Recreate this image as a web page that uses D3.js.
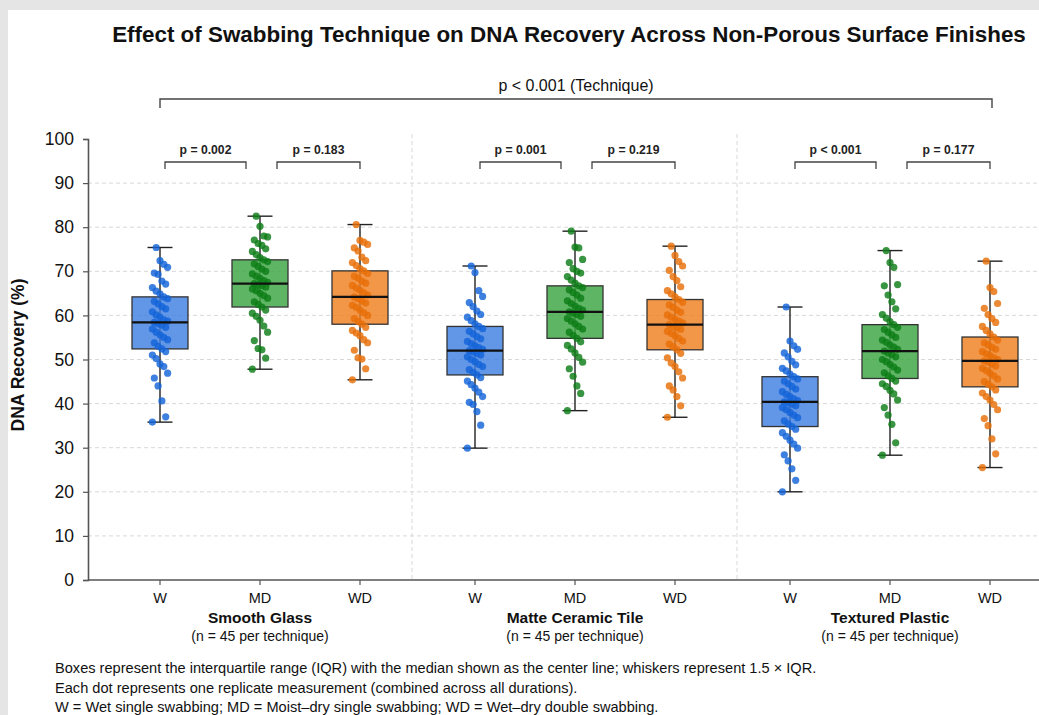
<!DOCTYPE html>
<html>
<head>
<meta charset="utf-8">
<script src="https://cdn.jsdelivr.net/npm/d3@7"></script>
<style>
  html, body { margin: 0; padding: 0; background: #e5e5e5; }
  svg { display: block; font-family: "Liberation Sans", Arial, Helvetica, sans-serif; }
</style>
</head>
<body>
<svg id="chart" width="1039" height="715"></svg>
<script>
// ---------------- DATA ----------------
const surfaces = ["Smooth Glass", "Matte Ceramic Tile", "Textured Plastic"];
const techniques = ["W", "MD", "WD"];
const sampleNote = "(n = 45 per technique)";

// box statistics [surface][technique]
const q1Values      = [[52.4, 61.9, 58.0], [46.5, 54.8, 52.2], [34.8, 45.7, 43.8]];
const medianValues  = [[58.4, 67.2, 64.2], [52.0, 60.8, 57.9], [40.4, 51.9, 49.7]];
const q3Values      = [[64.2, 72.6, 70.1], [57.5, 66.7, 63.6], [46.1, 57.9, 55.1]];
const whiskerLow    = [[35.8, 47.8, 45.4], [29.9, 38.4, 36.9], [20.0, 28.3, 25.5]];
const whiskerHigh   = [[75.4, 82.5, 80.6], [71.2, 79.1, 75.7], [61.9, 74.7, 72.3]];

// pairwise p-values: [W vs MD, MD vs WD]
const pairLabels = [["p = 0.002", "p = 0.183"], ["p = 0.001", "p = 0.219"], ["p < 0.001", "p = 0.177"]];
const overallLabel = "p < 0.001 (Technique)";

// replicate measurements (45 per technique)
const glassW  = [35.8,37.0,40.6,44.0,45.8,46.9,48.4,49.0,50.2,51.0,51.8,52.4,53.0,53.8,54.5,55.0,55.6,56.2,56.9,57.3,57.8,58.1,58.4,58.7,59.0,59.6,60.1,60.8,61.5,62.0,62.6,63.2,63.8,64.2,64.9,65.5,66.3,67.1,67.8,69.3,69.6,70.9,71.6,72.4,75.4];
const glassMD = [47.8,50.3,52.2,52.5,54.3,56.2,57.6,58.9,59.8,60.5,61.2,61.9,62.5,63.1,63.9,64.5,65.0,65.6,66.0,66.4,66.8,67.0,67.2,67.5,67.9,68.4,68.9,69.4,70.0,70.5,71.1,71.7,72.2,72.6,73.1,73.8,74.5,75.1,75.9,76.3,77.1,77.8,78.0,80.2,82.5];
const glassWD = [45.4,47.9,50.1,50.4,52.1,53.8,54.5,55.4,56.0,56.6,57.3,58.0,58.6,59.3,60.0,60.6,61.2,61.8,62.3,62.8,63.3,63.8,64.2,64.6,65.1,65.7,66.2,66.8,67.3,67.8,68.4,68.9,69.5,70.1,70.6,71.3,72.0,72.4,73.2,74.6,75.3,76.1,76.6,77.0,80.6];
const tileW   = [29.9,35.1,38.2,39.8,40.3,41.6,42.6,43.5,44.3,45.1,45.9,46.5,47.1,47.7,48.4,48.9,49.5,50.0,50.6,51.0,51.4,51.7,52.0,52.3,52.7,53.1,53.6,54.1,54.7,55.2,55.8,56.4,57.0,57.5,58.1,58.8,59.6,60.2,61.0,62.0,62.9,64.3,65.6,69.7,71.2];
const tileMD  = [38.4,42.3,44.0,46.2,47.9,49.4,50.5,51.5,52.4,53.2,54.0,54.8,55.5,56.2,56.9,57.5,58.1,58.7,59.3,59.8,60.2,60.5,60.8,61.2,61.6,62.1,62.7,63.3,63.9,64.6,65.2,65.8,66.3,66.7,67.3,68.0,68.8,69.6,70.0,70.6,72.0,72.7,75.3,75.5,79.1];
const tileWD  = [36.9,39.5,41.6,43.1,44.0,45.8,47.2,48.4,49.2,50.4,51.4,52.2,52.9,53.5,54.2,54.8,55.4,55.9,56.4,56.8,57.2,57.5,57.9,58.3,58.7,59.1,59.6,60.1,60.7,61.2,61.8,62.4,63.0,63.6,64.2,64.9,65.6,66.5,67.9,68.8,70.2,71.2,72.2,73.6,75.7];
const plasticW  = [20.0,22.6,25.2,27.0,28.4,29.9,30.8,31.7,32.6,33.4,34.2,34.8,35.4,36.1,36.8,37.4,38.0,38.6,39.1,39.5,39.9,40.2,40.4,40.7,41.1,41.6,42.1,42.7,43.3,43.9,44.5,45.1,45.6,46.1,46.7,47.4,48.0,48.8,49.6,50.6,51.5,52.3,53.1,54.2,61.9];
const plasticMD = [28.3,31.1,35.3,37.4,39.1,40.8,42.2,43.0,43.9,44.5,45.1,45.7,46.3,47.0,47.6,48.3,48.9,49.5,50.0,50.6,51.1,51.5,51.9,52.3,52.8,53.3,53.9,54.4,55.0,55.6,56.2,56.8,57.3,57.9,58.6,59.4,60.2,61.5,63.1,64.6,66.7,67.0,70.9,72.0,74.7];
const plasticWD = [25.5,28.6,32.0,35.0,36.6,38.6,39.8,40.8,41.6,42.4,43.1,43.8,44.4,45.0,45.6,46.3,46.9,47.5,48.0,48.5,49.0,49.4,49.7,50.0,50.4,50.9,51.3,51.8,52.3,52.8,53.3,53.8,54.4,55.1,55.8,56.6,57.5,58.4,59.3,60.2,61.6,62.7,65.4,66.3,72.3];
const replicates = [[glassW, glassMD, glassWD], [tileW, tileMD, tileWD], [plasticW, plasticMD, plasticWD]];

const yTicks = [0, 10, 20, 30, 40, 50, 60, 70, 80, 90, 100];
const gridTicks = [10, 20, 30, 40, 50, 60, 70, 80, 90];

const footnotes = [
  "Boxes represent the interquartile range (IQR) with the median shown as the center line; whiskers represent 1.5 \u00d7 IQR.",
  "Each dot represents one replicate measurement (combined across all durations).",
  "W = Wet single swabbing; MD = Moist\u2013dry single swabbing; WD = Wet\u2013dry double swabbing."
];

// ---------------- STYLE ----------------
const boxFill = ["#3f7fe0", "#3aa542", "#ef7f1f"];
const dotFill = ["#1464d9", "#0e7e17", "#e86f08"];
const groupStep = 3.15;

// ---------------- DRAW ----------------
const svg = d3.select("#chart");
svg.append("rect").attr("x", 8).attr("y", 10).attr("width", 1031).attr("height", 705).attr("fill", "#ffffff");

const y = d3.scaleLinear().domain([0, 100]).range([580, 139]);
const x = d3.scaleLinear().domain([0, 8.3]).range([160, 990]);
const pos = (g, t) => g * groupStep + t;
const plotLeft = 88, plotRight = 1039;

// grid
svg.append("g").selectAll("line").data(gridTicks).join("line")
  .attr("x1", plotLeft).attr("x2", plotRight)
  .attr("y1", d => y(d)).attr("y2", d => y(d))
  .attr("stroke", "#d8d8d8").attr("stroke-width", 1).attr("stroke-dasharray", "4,3");

// group separators
const dividers = [2.52, 5.77];
svg.append("g").selectAll("line").data(dividers).join("line")
  .attr("x1", d => x(d)).attr("x2", d => x(d))
  .attr("y1", 134).attr("y2", 580)
  .attr("stroke", "#d8d8d8").attr("stroke-width", 1).attr("stroke-dasharray", "4,3");

// build records
const records = [];
surfaces.forEach((s, g) => techniques.forEach((t, k) => {
  records.push({ g, k, p: pos(g, k), q1: q1Values[g][k], med: medianValues[g][k], q3: q3Values[g][k],
                 lo: whiskerLow[g][k], hi: whiskerHigh[g][k], vals: replicates[g][k] });
}));

const boxW = 0.56, capW = 0.25;
const marks = svg.append("g");
records.forEach(r => {
  const cx = x(r.p);
  const gEl = marks.append("g");
  gEl.append("line").attr("x1", cx).attr("x2", cx).attr("y1", y(r.lo)).attr("y2", y(r.hi))
    .attr("stroke", "#222").attr("stroke-width", 1.4);
  [r.lo, r.hi].forEach(v => gEl.append("line")
    .attr("x1", x(r.p - capW / 2)).attr("x2", x(r.p + capW / 2))
    .attr("y1", y(v)).attr("y2", y(v)).attr("stroke", "#222").attr("stroke-width", 1.4));
  gEl.append("rect")
    .attr("x", x(r.p - boxW / 2)).attr("width", x(r.p + boxW / 2) - x(r.p - boxW / 2))
    .attr("y", y(r.q3)).attr("height", y(r.q1) - y(r.q3))
    .attr("fill", boxFill[r.k]).attr("fill-opacity", 0.82)
    .attr("stroke", "#333").attr("stroke-width", 1.3);
  gEl.selectAll("circle").data(r.vals).join("circle")
    .attr("cx", (v, i) => cx + (((i * 7) % 9) - 4) * 1.9)
    .attr("cy", v => y(v))
    .attr("r", 3.6)
    .attr("fill", dotFill[r.k]).attr("fill-opacity", 0.82);
  gEl.append("line")
    .attr("x1", x(r.p - boxW / 2)).attr("x2", x(r.p + boxW / 2))
    .attr("y1", y(r.med)).attr("y2", y(r.med))
    .attr("stroke", "#111").attr("stroke-width", 2.2);
});

// axes
const yAxis = d3.axisLeft(y).tickValues(yTicks).tickSize(5).tickPadding(9);
const yG = svg.append("g").attr("transform", `translate(${plotLeft},0)`).call(yAxis);
yG.select(".domain").attr("stroke", "#555").attr("stroke-width", 1.6);
yG.selectAll(".tick line").attr("stroke", "#555").attr("stroke-width", 1.2);
yG.selectAll(".tick text").attr("font-size", 17.5).attr("fill", "#111").attr("font-family", "Liberation Sans, Arial, sans-serif");

svg.append("line").attr("x1", plotLeft).attr("x2", plotRight).attr("y1", 580).attr("y2", 580)
  .attr("stroke", "#555").attr("stroke-width", 1.6);

const xTickG = svg.append("g").selectAll("g").data(records).join("g")
  .attr("transform", r => `translate(${x(r.p)},580)`);
xTickG.append("line").attr("y1", 0).attr("y2", 5).attr("stroke", "#555").attr("stroke-width", 1.2);
xTickG.append("text").attr("y", 23).attr("text-anchor", "middle").attr("font-size", 14.5)
  .attr("fill", "#111").text(r => techniques[r.k]);

// surface labels
surfaces.forEach((s, g) => {
  svg.append("text").attr("x", x(pos(g, 1))).attr("y", 623).attr("text-anchor", "middle")
    .attr("font-size", 15.5).attr("font-weight", "bold").attr("fill", "#111").text(s);
  svg.append("text").attr("x", x(pos(g, 1))).attr("y", 641).attr("text-anchor", "middle")
    .attr("font-size", 14).attr("fill", "#111").text(sampleNote);
});

// y label
svg.append("text").attr("transform", "translate(24,355) rotate(-90)").attr("text-anchor", "middle")
  .attr("font-size", 17.5).attr("font-weight", "bold").attr("fill", "#111").text("DNA Recovery (%)");

// pairwise brackets
const brY = 162, brTick = 7;
surfaces.forEach((s, g) => {
  const spans = [[pos(g, 0) + 0.05, pos(g, 1) - 0.14], [pos(g, 1) + 0.17, pos(g, 2) + 0.0]];
  spans.forEach((sp, j) => {
    const x1 = x(sp[0]), x2 = x(sp[1]);
    svg.append("path").attr("d", `M${x1},${brY + brTick}V${brY}H${x2}V${brY + brTick}`)
      .attr("fill", "none").attr("stroke", "#444").attr("stroke-width", 1.3);
    svg.append("text").attr("x", (x1 + x2) / 2).attr("y", brY - 8).attr("text-anchor", "middle")
      .attr("font-size", 12.2).attr("font-weight", "bold").attr("fill", "#222").text(pairLabels[g][j]);
  });
});

// overall bracket
{
  const x1 = x(pos(0, 0)), x2 = x(pos(2, 2)) + 2, by = 99;
  svg.append("path").attr("d", `M${x1},${by + 9}V${by}H${x2}V${by + 9}`)
    .attr("fill", "none").attr("stroke", "#444").attr("stroke-width", 1.4);
  svg.append("text").attr("x", (x1 + x2) / 2).attr("y", by - 8).attr("text-anchor", "middle")
    .attr("font-size", 16).attr("fill", "#111").text(overallLabel);
}

// title
svg.append("text").attr("x", 569).attr("y", 42).attr("text-anchor", "middle")
  .attr("font-size", 22.4).attr("font-weight", "bold").attr("fill", "#111")
  .text("Effect of Swabbing Technique on DNA Recovery Across Non-Porous Surface Finishes");

// footnotes
svg.append("g").selectAll("text").data(footnotes).join("text")
  .attr("x", 55).attr("y", (d, i) => 673 + i * 19.5)
  .attr("font-size", 14.6).attr("fill", "#111").text(d => d);
</script>
</body>
</html>
